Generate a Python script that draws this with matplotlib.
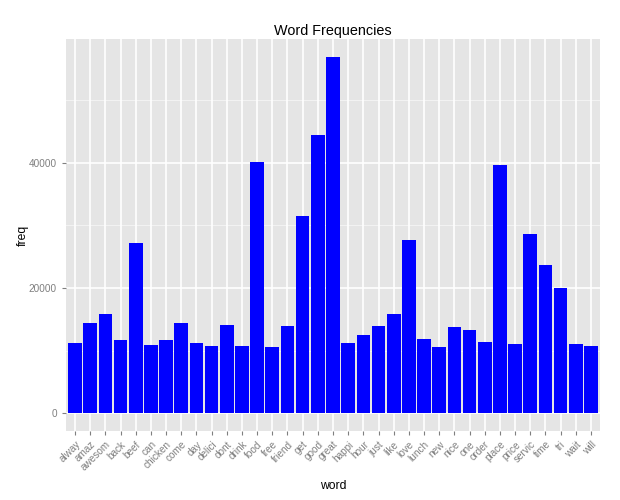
import matplotlib
matplotlib.use("Agg")
import matplotlib.pyplot as plt

words = ["alway", "amaz", "awesom", "back", "beef", "can", "chicken", "come", "day",
         "delici", "dont", "drink", "food", "free", "friend", "get", "good", "great",
         "happi", "hour", "just", "like", "love", "lunch", "new", "nice", "one",
         "order", "place", "price", "servic", "time", "tri", "wait", "will"]
freq = [11200, 14400, 15840, 11680, 27200, 10880, 11680, 14400, 11200,
        10720, 14080, 10720, 40160, 10560, 13920, 31520, 44480, 56960,
        11200, 12480, 13920, 15840, 27680, 11840, 10560, 13760, 13280,
        11360, 39680, 11040, 28640, 23680, 20000, 11040, 10720]
yticks = [0, 20000, 40000]

plt.rcParams['font.family'] = ['Liberation Sans', 'DejaVu Sans']

fig = plt.figure(figsize=(6.2, 5.0), dpi=100)
ax = fig.add_axes([66/620, 1-431/500, (600-66)/620, (431-39)/500])
ax.set_facecolor('#E5E5E5')
for s in ax.spines.values():
    s.set_visible(False)

x = list(range(len(words)))
ymax = max(freq)
ax.set_ylim(-0.05*ymax, 1.05*ymax)
ax.set_xlim(-0.6, len(words)-0.4)

# grid
for v in [10000, 30000, 50000]:
    ax.axhline(v, color='#F2F2F2', lw=0.8, zorder=0)
for v in yticks:
    ax.axhline(v, color='white', lw=1.2, zorder=0)
for xi in x:
    ax.axvline(xi, color='white', lw=1.2, zorder=0)

ax.bar(x, freq, width=0.9, color='#0000FF', zorder=2)

ax.set_xticks(x)
ax.set_xticklabels(words, rotation=45, ha='right', va='top', rotation_mode='anchor')
ax.set_yticks(yticks)
ax.set_yticklabels([str(v) for v in yticks])
ax.tick_params(axis='both', colors='#7F7F7F', labelcolor='#7F7F7F', labelsize=7.2,
               length=3, width=0.8)
ax.tick_params(axis='x', pad=3)
ax.set_xlabel('word', fontsize=8.7, color='black', labelpad=5)
ax.set_ylabel('freq', fontsize=8.7, color='black', labelpad=0)
ax.set_title('Word Frequencies', fontsize=10.4, color='black', pad=3)

fig.savefig('out.png', dpi=100)
